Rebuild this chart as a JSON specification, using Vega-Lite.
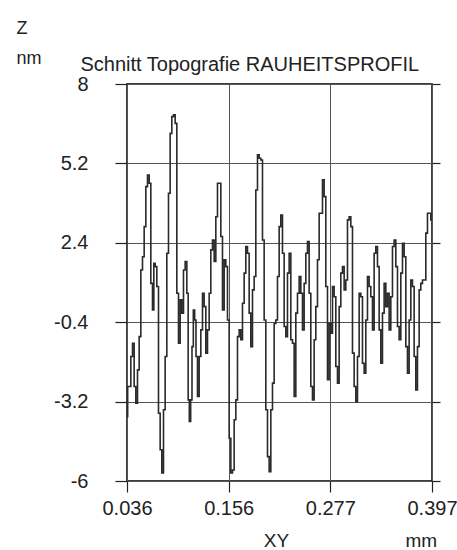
{
  "$schema": "https://vega.github.io/schema/vega-lite/v6.json",
  "width": 305,
  "height": 397,
  "autosize": {"type": "none"},
  "padding": {"left": 127, "top": 84, "right": 25, "bottom": 69},
  "background": "white",
  "config": {
    "view": {"stroke": "black", "strokeWidth": 1.5},
    "font": "Liberation Sans, Arial, sans-serif",
    "axis": {"labelFont": "Liberation Sans, Arial, sans-serif", "titleFont": "Liberation Sans, Arial, sans-serif", "labelColor": "#222", "titleColor": "#222", "titleFontWeight": "normal", "tickColor": "#222", "gridColor": "#555", "gridOpacity": 1, "gridWidth": 1}
  },
  "data": {
    "values": [
      {"x": 0.0360, "z": -3.73}, {"x": 0.03758, "z": -2.67}, {"x": 0.03955, "z": -2.67}, {"x": 0.04152, "z": -1.61}, {"x": 0.04350, "z": -1.14},
      {"x": 0.04547, "z": -2.67}, {"x": 0.04744, "z": -3.26}, {"x": 0.04941, "z": -2.08}, {"x": 0.05139, "z": -0.91}, {"x": 0.05336, "z": 1.44},
      {"x": 0.05533, "z": 1.91}, {"x": 0.05730, "z": 2.97}, {"x": 0.05928, "z": 4.38}, {"x": 0.06125, "z": 4.79}, {"x": 0.06322, "z": 4.50},
      {"x": 0.06519, "z": 0.97}, {"x": 0.06717, "z": 0.03}, {"x": 0.06835, "z": 1.68}, {"x": 0.07032, "z": 1.56}, {"x": 0.07229, "z": 0.86},
      {"x": 0.07427, "z": -3.61}, {"x": 0.07624, "z": -4.90}, {"x": 0.07821, "z": -5.72}, {"x": 0.08018, "z": -3.49}, {"x": 0.08216, "z": -1.61},
      {"x": 0.08413, "z": 2.03}, {"x": 0.08610, "z": 4.15}, {"x": 0.08807, "z": 6.26}, {"x": 0.09005, "z": 6.85}, {"x": 0.09202, "z": 6.91},
      {"x": 0.09399, "z": 6.61}, {"x": 0.09596, "z": 0.62}, {"x": 0.09794, "z": -1.14}, {"x": 0.09991, "z": 0.39}, {"x": 0.10188, "z": -0.08},
      {"x": 0.10385, "z": 1.44}, {"x": 0.10583, "z": 1.74}, {"x": 0.10780, "z": 0.62}, {"x": 0.10898, "z": -3.14}, {"x": 0.11056, "z": -3.90},
      {"x": 0.11214, "z": -3.14}, {"x": 0.11372, "z": -1.26}, {"x": 0.11529, "z": 0.03}, {"x": 0.11687, "z": -0.32}, {"x": 0.11845, "z": -1.61},
      {"x": 0.12042, "z": -3.02}, {"x": 0.12240, "z": -1.61}, {"x": 0.12437, "z": -0.67}, {"x": 0.12634, "z": 0.62}, {"x": 0.12831, "z": 0.15},
      {"x": 0.13029, "z": -1.49}, {"x": 0.13226, "z": -0.67}, {"x": 0.13423, "z": 0.62}, {"x": 0.13620, "z": 2.15}, {"x": 0.13818, "z": 2.50},
      {"x": 0.14015, "z": 1.74}, {"x": 0.14212, "z": 3.32}, {"x": 0.14409, "z": 4.50}, {"x": 0.14607, "z": 4.50}, {"x": 0.14804, "z": 2.62},
      {"x": 0.15001, "z": 0.03}, {"x": 0.15199, "z": 1.80}, {"x": 0.15396, "z": 1.56}, {"x": 0.15593, "z": -0.32}, {"x": 0.15790, "z": -4.49},
      {"x": 0.15988, "z": -5.72}, {"x": 0.16185, "z": -5.61}, {"x": 0.16382, "z": -3.84}, {"x": 0.16579, "z": -3.14}, {"x": 0.16777, "z": -0.91},
      {"x": 0.16974, "z": -0.67}, {"x": 0.17171, "z": -1.02}, {"x": 0.17368, "z": 0.27}, {"x": 0.17566, "z": 1.33}, {"x": 0.17763, "z": 2.27},
      {"x": 0.17960, "z": 2.03}, {"x": 0.18157, "z": -0.08}, {"x": 0.18355, "z": -1.26}, {"x": 0.18552, "z": 0.74}, {"x": 0.18749, "z": 1.21},
      {"x": 0.18946, "z": 4.26}, {"x": 0.19144, "z": 5.50}, {"x": 0.19341, "z": 5.38}, {"x": 0.19538, "z": 5.32}, {"x": 0.19735, "z": 2.50},
      {"x": 0.19933, "z": -0.32}, {"x": 0.20130, "z": -3.49}, {"x": 0.20327, "z": -5.14}, {"x": 0.20524, "z": -5.67}, {"x": 0.20722, "z": -3.49},
      {"x": 0.20919, "z": -2.55}, {"x": 0.21116, "z": -0.44}, {"x": 0.21313, "z": -0.32}, {"x": 0.21511, "z": 1.21}, {"x": 0.21708, "z": 2.97},
      {"x": 0.21905, "z": 3.38}, {"x": 0.22102, "z": 2.03}, {"x": 0.22300, "z": -0.55}, {"x": 0.22497, "z": -0.91}, {"x": 0.22694, "z": 1.33},
      {"x": 0.22891, "z": 2.03}, {"x": 0.23089, "z": -1.02}, {"x": 0.23286, "z": -1.14}, {"x": 0.23483, "z": -3.02}, {"x": 0.23680, "z": -0.08},
      {"x": 0.23878, "z": 0.62}, {"x": 0.24075, "z": 1.21}, {"x": 0.24272, "z": 0.62}, {"x": 0.24469, "z": -0.67}, {"x": 0.24667, "z": 0.97},
      {"x": 0.24864, "z": 2.03}, {"x": 0.25061, "z": 2.44}, {"x": 0.25258, "z": 0.62}, {"x": 0.25456, "z": -2.67}, {"x": 0.25653, "z": -3.14},
      {"x": 0.25850, "z": -1.02}, {"x": 0.26047, "z": 0.15}, {"x": 0.26245, "z": 1.80}, {"x": 0.26442, "z": 3.44}, {"x": 0.26639, "z": 3.44},
      {"x": 0.26836, "z": 4.62}, {"x": 0.27034, "z": 4.03}, {"x": 0.27231, "z": 0.86}, {"x": 0.27428, "z": -2.43}, {"x": 0.27625, "z": -0.44},
      {"x": 0.27823, "z": -0.79}, {"x": 0.28020, "z": 0.86}, {"x": 0.28217, "z": 0.50}, {"x": 0.28414, "z": -1.96}, {"x": 0.28612, "z": -2.55},
      {"x": 0.28809, "z": 0.15}, {"x": 0.29006, "z": 1.33}, {"x": 0.29203, "z": 1.56}, {"x": 0.29401, "z": 0.74}, {"x": 0.29598, "z": 1.09},
      {"x": 0.29795, "z": 3.21}, {"x": 0.29992, "z": 3.32}, {"x": 0.30190, "z": 2.97}, {"x": 0.30387, "z": -1.49}, {"x": 0.30584, "z": -2.67},
      {"x": 0.30781, "z": -3.20}, {"x": 0.30979, "z": -1.61}, {"x": 0.31176, "z": 0.62}, {"x": 0.31373, "z": 0.50}, {"x": 0.31570, "z": -1.85},
      {"x": 0.31768, "z": -2.20}, {"x": 0.31965, "z": -0.32}, {"x": 0.32162, "z": 1.21}, {"x": 0.32359, "z": 0.86}, {"x": 0.32557, "z": 0.50},
      {"x": 0.32754, "z": -0.67}, {"x": 0.32951, "z": 2.03}, {"x": 0.33148, "z": 2.27}, {"x": 0.33346, "z": 1.56}, {"x": 0.33543, "z": -0.67},
      {"x": 0.33740, "z": -1.85}, {"x": 0.33937, "z": -0.08}, {"x": 0.34135, "z": 0.97}, {"x": 0.34332, "z": 0.15}, {"x": 0.34529, "z": 0.62},
      {"x": 0.34726, "z": -0.67}, {"x": 0.34924, "z": 0.50}, {"x": 0.35121, "z": 2.27}, {"x": 0.35318, "z": 2.50}, {"x": 0.35515, "z": 1.56},
      {"x": 0.35713, "z": -0.55}, {"x": 0.35910, "z": -1.02}, {"x": 0.36107, "z": 1.33}, {"x": 0.36304, "z": 2.38}, {"x": 0.36502, "z": 1.91},
      {"x": 0.36699, "z": -1.26}, {"x": 0.36896, "z": -2.20}, {"x": 0.37093, "z": -0.32}, {"x": 0.37291, "z": 1.09}, {"x": 0.37488, "z": 0.86},
      {"x": 0.37685, "z": -1.61}, {"x": 0.37882, "z": -2.79}, {"x": 0.38080, "z": -1.26}, {"x": 0.38277, "z": 0.74}, {"x": 0.38474, "z": 0.97},
      {"x": 0.38671, "z": 1.09}, {"x": 0.38869, "z": 1.09}, {"x": 0.39066, "z": 2.74}, {"x": 0.39263, "z": 3.44}, {"x": 0.39460, "z": 3.44},
      {"x": 0.39650, "z": 3.21}
    ]
  },
  "layer": [
    {
      "mark": {"type": "line", "color": "#2a2a2a", "strokeWidth": 1.6, "interpolate": "step", "clip": true},
      "encoding": {
        "x": {
          "field": "x", "type": "quantitative",
          "scale": {"domain": [0.036, 0.397], "nice": false, "zero": false},
          "axis": {
            "orient": "bottom", "values": [0.036, 0.15633, 0.27667, 0.397], "format": ".3f",
            "domain": false, "grid": true, "tickSize": 11, "tickWidth": 1.2,
            "labelFontSize": 20, "labelPadding": 6, "labelFlush": false,
            "title": "XY", "titleFontSize": 19, "titleX": 149, "titleY": 65,
            "titleAlign": "center", "titleBaseline": "alphabetic", "titleAnchor": null
          }
        },
        "y": {
          "field": "z", "type": "quantitative",
          "scale": {"domain": [-6, 8], "nice": false, "zero": false},
          "axis": {
            "orient": "left", "values": [-6, -3.2, -0.4, 2.4, 5.2, 8], "labelExpr": "'' + datum.value",
            "domain": false, "grid": true, "tickSize": 12, "tickWidth": 1.2,
            "labelFontSize": 20, "labelPadding": 27, "labelAlign": "right", "labelBaseline": "middle", "labelFlush": false,
            "title": ["Z", "nm"], "titleFontSize": 18, "titleLineHeight": 30, "titleAngle": 0,
            "titleX": -111, "titleY": -51, "titleAlign": "left", "titleBaseline": "alphabetic"
          }
        }
      }
    },
    {
      "mark": {"type": "line", "opacity": 0},
      "encoding": {
        "x": {
          "field": "x", "type": "quantitative",
          "axis": {
            "orient": "top", "ticks": false, "labels": false, "domain": false, "grid": false,
            "title": "mm", "titleFontSize": 19, "titleX": 278, "titleY": 462,
            "titleAlign": "left", "titleBaseline": "alphabetic"
          }
        },
        "y": {
          "field": "z", "type": "quantitative",
          "axis": {
            "orient": "right", "values": [-6, -3.2, -0.4, 2.4, 5.2, 8], "labels": false, "domain": false, "grid": false,
            "tickSize": 8, "tickWidth": 1.2,
            "title": "Schnitt Topografie RAUHEITSPROFIL", "titleFontSize": 20, "titleAngle": 0,
            "titleX": -352, "titleY": -14, "titleAlign": "left", "titleBaseline": "alphabetic"
          }
        }
      }
    }
  ],
  "resolve": {"axis": {"x": "independent", "y": "independent"}}
}
